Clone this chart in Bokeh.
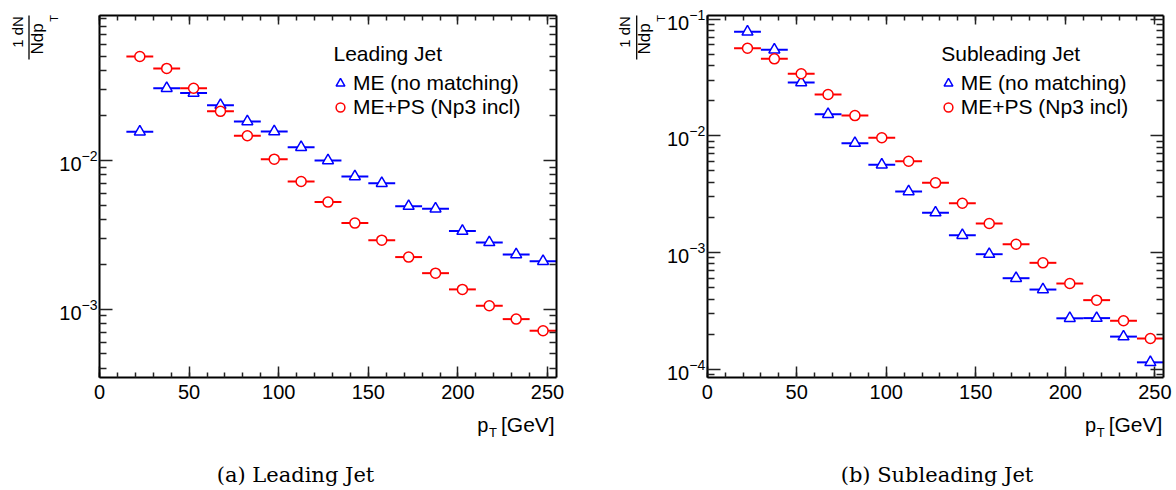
import math
from bokeh.plotting import figure
from bokeh.models import (ColumnDataSource, Label, Legend, LegendItem, LinearAxis, LogAxis,
                          FixedTicker, SingleIntervalTicker, LogTickFormatter,
                          CustomJSTickFormatter, Range1d, Arrow, LogScale, LinearScale)
from bokeh.embed import file_html
from bokeh.resources import INLINE

# ---------------- data ----------------
pt_centers = [22.5, 37.5, 52.5, 67.5, 82.5, 97.5, 112.5, 127.5,
              142.5, 157.5, 172.5, 187.5, 202.5, 217.5, 232.5, 247.5]
bin_half_width = 7.5

lead_me = [0.0156, 0.0306, 0.0284, 0.02355, 0.01828, 0.01567, 0.01228, 0.0100,
           0.0078, 0.00703, 0.00493, 0.00473, 0.00335, 0.00281, 0.00233, 0.0021]
lead_ps = [0.0500, 0.0416, 0.0306, 0.0214, 0.01466, 0.0102, 0.00722, 0.00525,
           0.00379, 0.00291, 0.00224, 0.001746, 0.001358, 0.001054, 0.000857, 0.000716]
sub_me = [0.0777, 0.0545, 0.0286, 0.0153, 0.00865, 0.00565, 0.00334, 0.0022,
          0.00141, 0.00097, 0.000604, 0.000483, 0.000274, 0.000275, 0.000191, 0.000115]
sub_ps = [0.0562, 0.0456, 0.0340, 0.0226, 0.0149, 0.00962, 0.00606, 0.00396,
          0.00265, 0.001775, 0.00118, 0.000818, 0.000544, 0.000392, 0.000261, 0.000184]

series_labels = ["ME (no matching)", "ME+PS (Np3 incl)"]
panel_headers = ["Leading Jet", "Subleading Jet"]
captions = ["(a) Leading Jet", "(b) Subleading Jet"]
x_limits = (0, 255)
lead_y_limits = (3.47e-4, 0.0944)
sub_y_limits = (8.53e-5, 0.1072)
lead_decades = [1e-3, 1e-2]
sub_decades = [1e-4, 1e-3, 1e-2, 1e-1]
x_tick_interval = 50

# ---------------- layout geometry (pixels) ----------------
W, H = 1172, 488
BOX_TOP, BOX_BOTTOM = 15, 377
PANEL_LEFT = [99, 706.7]
PANEL_RIGHT = [556, 1163.3]
CAPTION_CX = [295, 936.5]

SANS = "Liberation Sans"
SERIF = "DejaVu Serif"
BLUE = "#0000ff"
RED = "#ff0000"


def lin_range(px_lo, px_hi, v_lo, v_hi):
    s = (px_hi - px_lo) / (v_hi - v_lo)
    return Range1d(v_lo - px_lo / s, v_lo + (W - px_lo) / s)


def log_range(ylo, yhi):
    d = (math.log10(yhi) - math.log10(ylo)) / (BOX_BOTTOM - BOX_TOP)
    top = math.log10(yhi) + BOX_TOP * d
    bot = math.log10(ylo) - (H - BOX_BOTTOM) * d
    return Range1d(10 ** bot, 10 ** top)


p = figure(width=W, height=H, min_border=0, title=None,
           x_range=lin_range(PANEL_LEFT[0], PANEL_RIGHT[0], *x_limits),
           y_range=log_range(*lead_y_limits),
           y_axis_type="log", x_axis_location=None, y_axis_location=None,
           output_backend="svg", toolbar_location=None,
           background_fill_color="white", border_fill_color="white")
p.extra_x_ranges = {"x2": lin_range(PANEL_LEFT[1], PANEL_RIGHT[1], *x_limits)}
p.extra_x_scales = {"x2": LinearScale()}
p.extra_y_ranges = {"y2": log_range(*sub_y_limits)}
p.extra_y_scales = {"y2": LogScale()}
p.xgrid.visible = False
p.ygrid.visible = False
p.outline_line_color = None


def style_axis(ax, major_in, minor_in, labels=True):
    ax.axis_line_width = 2
    ax.axis_line_color = "black"
    ax.major_tick_in = major_in
    ax.major_tick_out = 0
    ax.minor_tick_in = minor_in
    ax.minor_tick_out = 0
    ax.major_tick_line_width = 1.5
    ax.minor_tick_line_width = 1.5
    ax.major_tick_line_color = "#222222"
    ax.minor_tick_line_color = "#222222"
    if labels:
        ax.major_label_text_font = SANS
        ax.major_label_text_font_size = "20px"
        ax.major_label_text_color = "black"
    else:
        ax.major_label_text_font_size = "0px"
        ax.major_label_standoff = 0
        ax.formatter = CustomJSTickFormatter(code="return ''")


def sl(text, x, y, size, **kw):
    """label in screen pixels measured from the top-left of the canvas"""
    return Label(x=x, y=H - y, x_units="screen", y_units="screen", text=text,
                 text_font=SANS, text_font_size=size, text_color="black", **kw)


def panel(i, me, ps, ylim, decades, xr, yr):
    dx = PANEL_LEFT[i] - PANEL_LEFT[0]
    xt = SingleIntervalTicker(interval=x_tick_interval, num_minor_ticks=5)
    minor = [k * 10.0 ** e for e in range(-5, 1) for k in range(2, 10)
             if ylim[0] <= k * 10.0 ** e <= ylim[1]]
    yt = FixedTicker(ticks=decades, minor_ticks=minor)
    rn = dict(x_range_name=xr, y_range_name=yr)

    left = LogAxis(ticker=yt, formatter=LogTickFormatter(), fixed_location=x_limits[0],
                   bounds=ylim, **rn)
    style_axis(left, 13, 7)
    left.major_label_standoff = 2
    p.add_layout(left, "left")
    right = LogAxis(ticker=yt, fixed_location=x_limits[1], bounds=ylim, **rn)
    style_axis(right, 13, 7, labels=False)
    p.add_layout(right, "right")
    bottom = LinearAxis(ticker=xt, fixed_location=ylim[0], bounds=x_limits, **rn)
    style_axis(bottom, 11, 5)
    bottom.major_label_standoff = 7
    p.add_layout(bottom, "below")
    top = LinearAxis(ticker=xt, fixed_location=ylim[1], bounds=x_limits, **rn)
    style_axis(top, 9, 5, labels=False)
    p.add_layout(top, "above")

    lo = [c - bin_half_width for c in pt_centers]
    hi = [c + bin_half_width for c in pt_centers]
    src_me = ColumnDataSource(dict(x=pt_centers, y=me, x0=lo, x1=hi))
    src_ps = ColumnDataSource(dict(x=pt_centers, y=ps, x0=lo, x1=hi))
    p.segment(x0="x0", x1="x1", y0="y", y1="y", source=src_me,
              line_color=BLUE, line_width=2, **rn)
    p.segment(x0="x0", x1="x1", y0="y", y1="y", source=src_ps,
              line_color=RED, line_width=2, **rn)
    r_me = p.scatter(x="x", y="y", source=src_me, marker="triangle", size=11,
                     fill_color="white", line_color=BLUE, line_width=1.5, **rn)
    r_ps = p.scatter(x="x", y="y", source=src_ps, marker="circle", size=10,
                     fill_color="white", line_color=RED, line_width=1.5, **rn)

    leg = Legend(items=[LegendItem(label=series_labels[0], renderers=[r_me]),
                        LegendItem(label=series_labels[1], renderers=[r_ps])],
                 location=(329 + dx, H - 119), glyph_width=22, glyph_height=24,
                 label_height=24, label_standoff=2, spacing=0, padding=0, margin=0,
                 border_line_color=None, background_fill_alpha=0,
                 label_text_font=SANS, label_text_font_size="21px",
                 label_text_color="black", label_text_baseline="middle")
    p.add_layout(leg)
    p.add_layout(sl(panel_headers[i], 333 + dx, 53, "21px", text_baseline="middle"))

    # y-axis title: fraction 1 dN / N dp_T, rotated
    p.add_layout(sl("1 dN", 16.5 + dx, 31.5, "15px", angle=math.pi / 2,
                    text_align="center", text_baseline="middle"))
    p.add_layout(Arrow(end=None, x_start=28.5 + dx, y_start=H - 15, x_end=28.5 + dx,
                       y_end=H - 59, start_units="screen", end_units="screen",
                       line_color="black", line_width=1.3))
    p.add_layout(sl("Ndp", 36.6 + dx, 38.5, "17px", angle=math.pi / 2,
                    text_align="center", text_baseline="middle"))
    p.add_layout(sl("T", 53 + dx, 18, "11px", angle=math.pi / 2,
                    text_align="center", text_baseline="middle"))

    # x-axis title: p_T [GeV]
    p.add_layout(sl("p", 476.7 + dx, 424, "20px", text_baseline="middle"))
    p.add_layout(sl("T", 488.5 + dx, 431.5, "13px", text_baseline="middle"))
    p.add_layout(sl("[GeV]", 500.5 + dx, 424, "21px", text_baseline="middle"))

    # caption
    cap = sl(captions[i], CAPTION_CX[i], 474.5, "21px", text_align="center",
             text_baseline="middle")
    cap.text_font = SERIF
    p.add_layout(cap)


panel(0, lead_me, lead_ps, lead_y_limits, lead_decades, "default", "default")
panel(1, sub_me, sub_ps, sub_y_limits, sub_decades, "x2", "y2")

open("out.html", "w").write(file_html(p, INLINE))
